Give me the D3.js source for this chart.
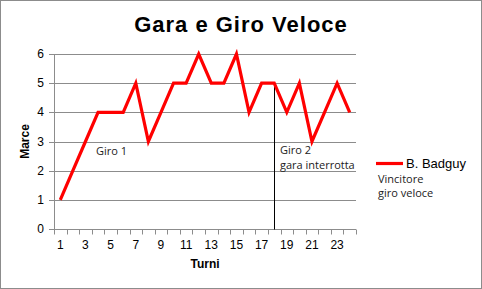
<!DOCTYPE html>
<html>
<head>
<meta charset="utf-8">
<script src="https://cdn.jsdelivr.net/npm/d3@7"></script>
<style>
  body { margin: 0; background: #fff; }
  text { font-family: "Liberation Sans", Arial, sans-serif; }
  .note { font-family: "Open Sans", "Noto Sans", sans-serif; font-size: 11px; fill: #222; }
</style>
</head>
<body>
<svg id="chart" width="482" height="289"></svg>
<script>
const turni = d3.range(1, 25);
const marce = [1, 2, 3, 4, 4, 4, 5, 3, 4, 5, 5, 6, 5, 5, 6, 4, 5, 5, 4, 5, 3, 4, 5, 4];
const yTicks = [0, 1, 2, 3, 4, 5, 6];
const xLabels = [1, 3, 5, 7, 9, 11, 13, 15, 17, 19, 21, 23];
const stopTurno = 18;

const svg = d3.select("#chart");
const margin = { left: 54, right: 126, top: 54, bottom: 60 };
const W = 482, H = 289;

// outer frame
svg.append("rect")
  .attr("x", 0.5).attr("y", 0.5)
  .attr("width", W - 1).attr("height", H - 1)
  .attr("fill", "#fff").attr("stroke", "#8c8c8c");

const x = d3.scaleBand()
  .domain(turni)
  .range([margin.left, W - margin.right]);

const y = d3.scaleLinear()
  .domain([0, 6])
  .range([H - margin.bottom, margin.top]);

// gridlines
svg.append("g")
  .selectAll("line")
  .data(yTicks.slice(1))
  .enter()
  .append("line")
  .attr("x1", margin.left).attr("x2", W - margin.right)
  .attr("y1", (d) => Math.round(y(d)) + 0.5)
  .attr("y2", (d) => Math.round(y(d)) + 0.5)
  .attr("stroke", "#8c8c8c");

// y axis
svg.append("line")
  .attr("x1", margin.left + 0.5).attr("x2", margin.left + 0.5)
  .attr("y1", y(6)).attr("y2", y(0))
  .attr("stroke", "#8c8c8c");

svg.append("g")
  .selectAll("line")
  .data(yTicks)
  .enter()
  .append("line")
  .attr("x1", margin.left - 5).attr("x2", margin.left)
  .attr("y1", (d) => Math.round(y(d)) + 0.5)
  .attr("y2", (d) => Math.round(y(d)) + 0.5)
  .attr("stroke", "#8c8c8c");

svg.append("g")
  .selectAll("text")
  .data(yTicks)
  .enter()
  .append("text")
  .attr("x", margin.left - 10)
  .attr("y", (d) => y(d) + 4)
  .attr("text-anchor", "end")
  .attr("font-size", 12)
  .text((d) => d);

// x axis
const y0 = Math.round(y(0)) + 0.5;
svg.append("line")
  .attr("x1", margin.left).attr("x2", W - margin.right)
  .attr("y1", y0).attr("y2", y0)
  .attr("stroke", "#8c8c8c");

const bounds = turni.map((t) => x(t)).concat([x(24) + x.bandwidth()]);
svg.append("g")
  .selectAll("line")
  .data(bounds)
  .enter()
  .append("line")
  .attr("x1", (d) => Math.round(d) + 0.5)
  .attr("x2", (d) => Math.round(d) + 0.5)
  .attr("y1", y0).attr("y2", y0 + 5)
  .attr("stroke", "#8c8c8c");

svg.append("g")
  .selectAll("text")
  .data(xLabels)
  .enter()
  .append("text")
  .attr("x", (d) => x(d) + x.bandwidth() / 2)
  .attr("y", y0 + 19)
  .attr("text-anchor", "middle")
  .attr("font-size", 12)
  .text((d) => d);

// vertical marker for the stopped race
svg.append("line")
  .attr("x1", Math.round(x(stopTurno) + x.bandwidth() / 2) + 0.5)
  .attr("x2", Math.round(x(stopTurno) + x.bandwidth() / 2) + 0.5)
  .attr("y1", y(marce[stopTurno - 1]))
  .attr("y2", y0)
  .attr("stroke", "#000");

// series line
const line = d3.line()
  .x((d, i) => x(turni[i]) + x.bandwidth() / 2)
  .y((d) => y(d));

svg.append("path")
  .datum(marce)
  .attr("d", line)
  .attr("fill", "none")
  .attr("stroke", "#ff0000")
  .attr("stroke-width", 3.2)
  .attr("stroke-linejoin", "miter");

// title and axis titles
svg.append("text")
  .attr("x", 241).attr("y", 32)
  .attr("text-anchor", "middle")
  .attr("font-size", 22)
  .attr("font-weight", "bold")
  .attr("letter-spacing", 1)
  .text("Gara e Giro Veloce");

svg.append("text")
  .attr("x", (margin.left + W - margin.right) / 2)
  .attr("y", 268)
  .attr("text-anchor", "middle")
  .attr("font-size", 12)
  .attr("font-weight", "bold")
  .text("Turni");

svg.append("text")
  .attr("transform", `translate(29, ${(y(0) + y(6)) / 2}) rotate(-90)`)
  .attr("text-anchor", "middle")
  .attr("font-size", 12)
  .attr("font-weight", "bold")
  .text("Marce");

// annotations
svg.append("text").attr("class", "note").attr("x", 96).attr("y", 155).text("Giro 1");
svg.append("text").attr("class", "note").attr("x", 280).attr("y", 154).text("Giro 2");
svg.append("text").attr("class", "note").attr("x", 280).attr("y", 169).text("gara interrotta");

// legend
svg.append("line")
  .attr("x1", 376).attr("x2", 403)
  .attr("y1", 163.5).attr("y2", 163.5)
  .attr("stroke", "#ff0000")
  .attr("stroke-width", 3.2);

svg.append("text")
  .attr("x", 406).attr("y", 168)
  .attr("font-size", 13)
  .text("B. Badguy");

svg.append("text").attr("class", "note").attr("x", 378).attr("y", 183).text("Vincitore");
svg.append("text").attr("class", "note").attr("x", 378).attr("y", 197).text("giro veloce");
</script>
</body>
</html>
